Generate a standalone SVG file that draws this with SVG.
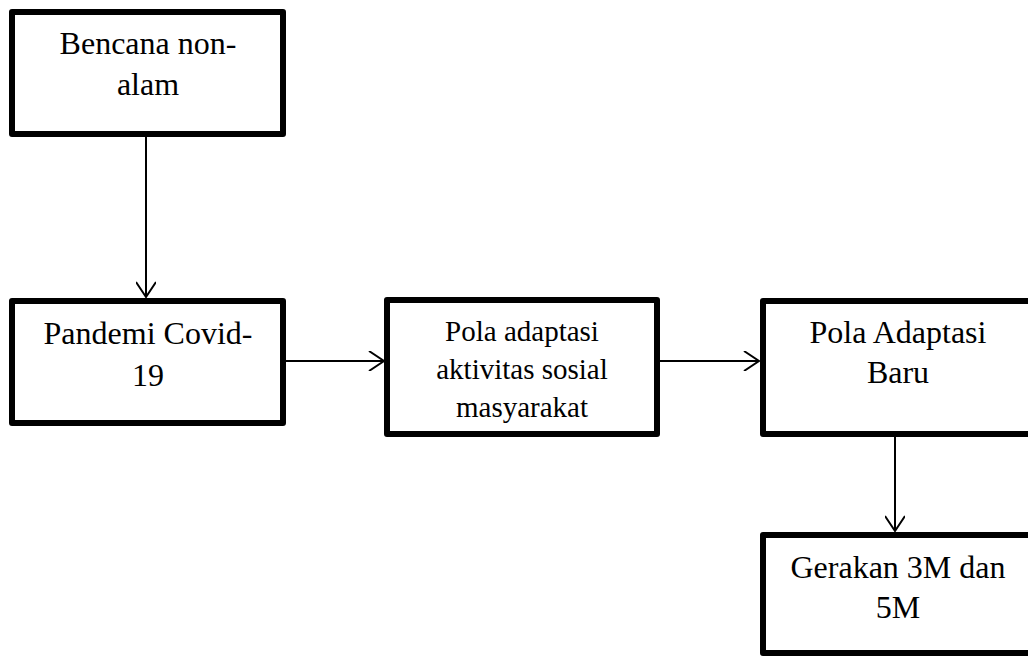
<svg xmlns="http://www.w3.org/2000/svg" width="1028" height="662" viewBox="0 0 1028 662">
<style>
.box{fill:#fff;stroke:#000;stroke-width:6;stroke-linejoin:round}
.t{font-family:"Liberation Serif","Times New Roman",serif;fill:#000;text-anchor:middle}
.conn{stroke:#000;stroke-width:2;fill:none}
</style>
<defs>
<marker id="arr" viewBox="0 0 20 20" refX="17" refY="10" markerWidth="20" markerHeight="20" markerUnits="userSpaceOnUse" orient="auto">
<path d="M2,0 L17,10 L2,20" fill="none" stroke="#000" stroke-width="2"/>
</marker>
</defs>
<rect width="1028" height="662" fill="#fff"/>
<g id="connectors">
<line class="conn" x1="146" y1="137" x2="146" y2="297" marker-end="url(#arr)"/>
<line class="conn" x1="286" y1="361" x2="384" y2="361" marker-end="url(#arr)"/>
<line class="conn" x1="660" y1="361" x2="759" y2="361" marker-end="url(#arr)"/>
<line class="conn" x1="895" y1="437" x2="895" y2="531" marker-end="url(#arr)"/>
</g>
<g id="n1">
<rect class="box" x="12" y="12" width="271" height="122"/>
<text class="t" x="148" y="54" font-size="32">Bencana non-</text>
<text class="t" x="148" y="95" font-size="32">alam</text>
</g>
<g id="n2">
<rect class="box" x="12" y="301" width="271" height="122"/>
<text class="t" x="148" y="344" font-size="32">Pandemi Covid-</text>
<text class="t" x="148" y="386" font-size="32">19</text>
</g>
<g id="n3">
<rect class="box" x="387" y="300" width="270" height="134"/>
<text class="t" x="522" y="341" font-size="29">Pola adaptasi</text>
<text class="t" x="522" y="379" font-size="29">aktivitas sosial</text>
<text class="t" x="522" y="417" font-size="29">masyarakat</text>
</g>
<g id="n4">
<rect class="box" x="763" y="301" width="280" height="133"/>
<text class="t" x="898" y="343" font-size="32">Pola Adaptasi</text>
<text class="t" x="898" y="383" font-size="32">Baru</text>
</g>
<g id="n5">
<rect class="box" x="763" y="535" width="280" height="118"/>
<text class="t" x="898" y="578" font-size="32">Gerakan 3M dan</text>
<text class="t" x="898" y="618" font-size="32">5M</text>
</g>
</svg>
